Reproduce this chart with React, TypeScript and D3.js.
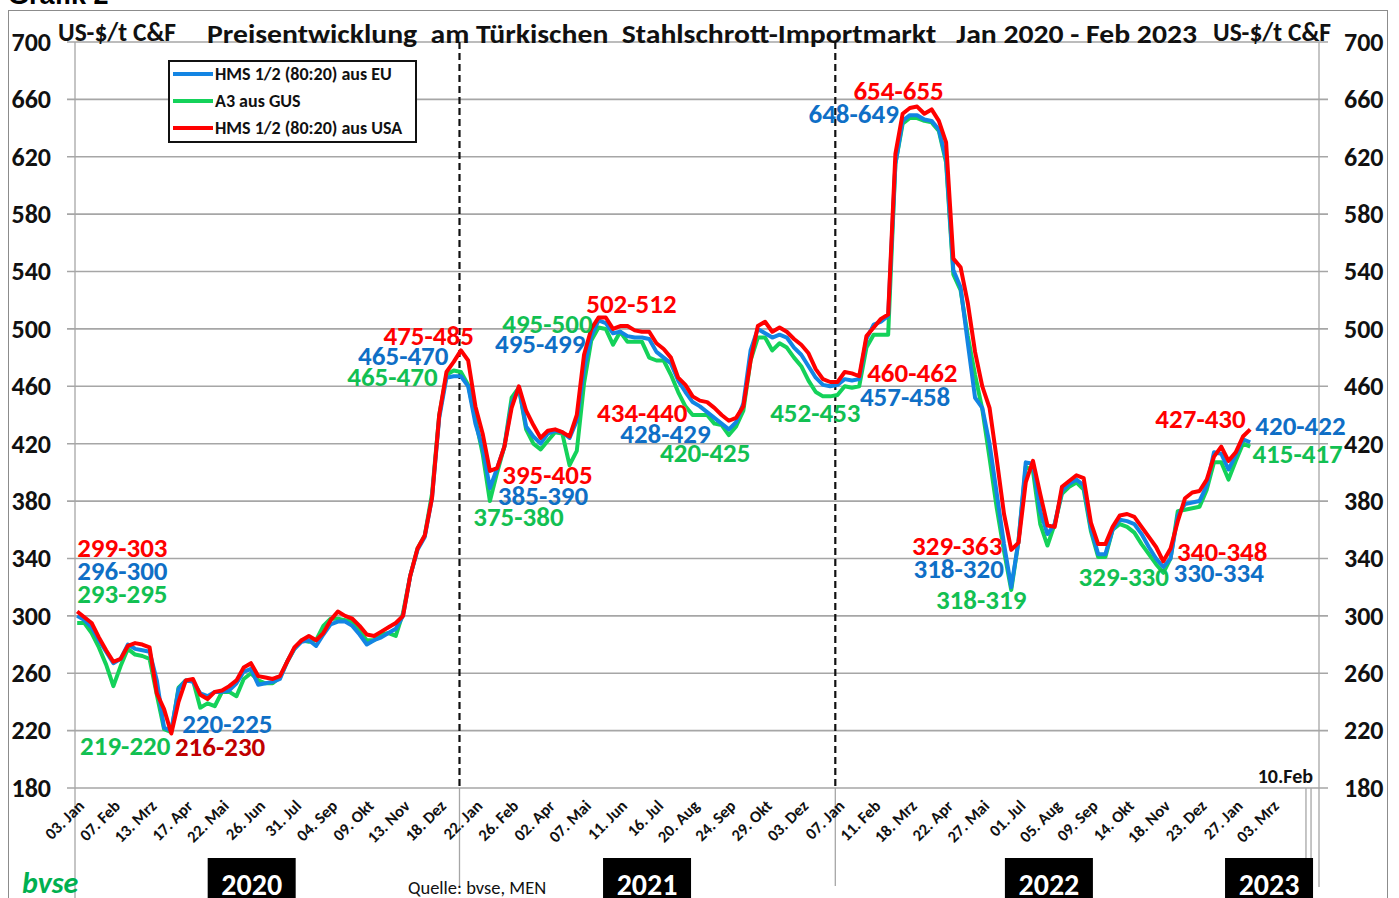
import React, { useEffect, useRef } from "react";
import * as d3 from "d3";

const width = 1399;
const height = 898;
const plotLeft = 75;
const plotRight = 1319;
const plotTop = 42;
const plotBottom = 788;

const font = "Carlito, Calibri, 'Open Sans', sans-serif";

// Wochenwerte ab 03.01.2020 bis 10.02.2023 (US-$/t C&F)
const eu = [
  300, 297, 292, 283, 275, 267, 270, 280, 277, 276, 275, 255, 222, 220, 249, 255, 254, 246, 244, 247,
  247, 248, 253, 261, 263, 252, 253, 254, 256, 268, 277, 282, 283, 279, 287, 294, 296, 296, 293, 287,
  280, 283, 285, 288, 291, 300, 328, 346, 355, 382, 438, 466, 467, 467, 460, 434, 417, 389, 403, 418,
  448, 459, 432, 425, 420, 427, 429, 428, 424, 436, 472, 495, 506, 504, 497, 498, 495, 494, 494, 493,
  484, 480, 476, 464, 456, 449, 446, 442, 438, 434, 430, 435, 448, 485, 500, 497, 494, 496, 494, 487,
  482, 474, 466, 461, 460, 461, 465, 464, 465, 493, 503, 505, 509, 615, 645, 649, 649, 646, 645, 639,
  618, 541, 529, 490, 452, 445, 420, 385, 350, 320, 352, 407, 406, 373, 357, 364, 387, 392, 395, 391,
  361, 343, 343, 360, 367, 366, 364, 357, 348, 340, 334, 340, 370, 378, 379, 380, 391, 414, 413, 402,
  412, 423, 421,
];

const gus = [
  295, 295, 288, 278, 266, 251, 265, 277, 273, 272, 270, 245, 221, 219, 250, 255, 255, 236, 239, 237,
  247, 247, 244, 256, 260, 255, 253, 253, 257, 268, 277, 283, 282, 283, 293, 298, 298, 297, 296, 289,
  283, 283, 287, 288, 286, 302, 328, 347, 356, 385, 440, 468, 471, 470, 461, 437, 413, 380, 400, 418,
  452, 459, 430, 420, 416, 422, 428, 427, 405, 415, 462, 492, 501, 500, 489, 498, 491, 491, 491, 480,
  478, 478, 468, 456, 446, 440, 440, 440, 434, 433, 426, 432, 443, 478, 494, 494, 485, 490, 487, 480,
  474, 464, 456, 453, 453, 454, 460, 459, 460, 487, 496, 496, 496, 615, 643, 647, 647, 645, 644, 638,
  616, 538, 527, 495, 468, 444, 410, 375, 345, 318, 352, 404, 401, 364, 349, 364, 385, 390, 393, 388,
  359, 341, 341, 360, 364, 362, 358, 350, 343, 336, 330, 340, 373, 374, 375, 376, 388, 407, 407, 395,
  408, 420, 418,
];

const usa = [
  303, 299, 295, 285, 276, 268, 270, 279, 281, 280, 278, 246, 235, 218, 240, 255, 256, 245, 242, 247,
  248, 251, 255, 264, 267, 258, 257, 256, 258, 268, 278, 283, 286, 283, 288, 297, 303, 300, 298, 293,
  287, 286, 289, 292, 295, 300, 328, 347, 356, 382, 440, 470, 477, 485, 478, 446, 427, 401, 403, 418,
  445, 460, 443, 433, 424, 429, 430, 428, 425, 440, 482, 500, 508, 508, 500, 502, 502, 499, 498, 498,
  490, 486, 480, 466, 461, 453, 450, 449, 445, 440, 436, 438, 446, 478, 502, 505, 498, 501, 498, 493,
  489, 483, 472, 465, 463, 463, 470, 469, 467, 495, 501, 507, 510, 622, 650, 654, 655, 650, 653, 645,
  630, 549, 543, 518, 484, 460, 445, 409, 371, 346, 351, 393, 408, 385, 363, 362, 390, 394, 398, 396,
  365, 350, 350, 362, 370, 371, 369, 362, 355, 348, 338, 347, 366, 382, 386, 387, 395, 411, 418, 408,
  414, 425, 430,
];

const seriesNames = ["HMS 1/2 (80:20) aus EU", "A3 aus GUS", "HMS 1/2 (80:20) aus USA"];
const lineColors = ["#1385e3", "#14d25a", "#ff0000"];
const textColors = ["#0f6fc6", "#12c052", "#ff0000"];

const yTicks = [180, 220, 260, 300, 340, 380, 420, 460, 500, 540, 580, 620, 660, 700];

// Achsbeschriftung alle 5 Wochen
const xTickLabels = [
  "03. Jan", "07. Feb", "13. Mrz", "17. Apr", "22. Mai", "26. Jun", "31. Jul", "04. Sep", "09. Okt",
  "13. Nov", "18. Dez", "22. Jan", "26. Feb", "02. Apr", "07. Mai", "11. Jun", "16. Jul", "20. Aug",
  "24. Sep", "29. Okt", "03. Dez", "07. Jan", "11. Feb", "18. Mrz", "22. Apr", "27. Mai", "01. Jul",
  "05. Aug", "09. Sep", "14. Okt", "18. Nov", "23. Dez", "27. Jan", "03. Mrz",
];

// Jahreswechsel (gestrichelt) und Achsende, in Wochen
const yearBreaks = [52.8, 104.7];
const axisEndMarks = [169.7, 170.4];

const years = ["2020", "2021", "2022", "2023"];
const yearCenters = [24.1, 78.7, 134.2, 164.6];

// Preisspannen-Beschriftung: Text, Woche, Wert (Grundlinie), Serie
const annotations: [string, number, number, number][] = [
  ["299-303", 0, 341, 2],
  ["296-300", 0, 325, 0],
  ["293-295", 0, 309, 1],
  ["219-220", 0.4, 203, 1],
  ["220-225", 14.5, 218.4, 0],
  ["216-230", 13.5, 202.3, 3],
  ["475-485", 42.3, 489, 2],
  ["465-470", 38.8, 475, 0],
  ["465-470", 37.3, 460.3, 1],
  ["495-500", 58.7, 497.3, 1],
  ["495-499", 57.7, 483.3, 0],
  ["502-512", 70.3, 511.4, 2],
  ["395-405", 58.7, 392, 2],
  ["385-390", 58.1, 377.4, 0],
  ["375-380", 54.7, 362.7, 1],
  ["434-440", 71.8, 435.2, 2],
  ["428-429", 75, 420.6, 0],
  ["420-425", 80.5, 407.3, 1],
  ["452-453", 95.7, 435.2, 1],
  ["654-655", 107.2, 659.8, 2],
  ["648-649", 101, 643.7, 0],
  ["460-462", 109.1, 463.1, 2],
  ["457-458", 108.1, 446.4, 0],
  ["329-363", 115.3, 342.5, 2],
  ["318-320", 115.5, 326.4, 0],
  ["318-319", 118.6, 304.8, 1],
  ["329-330", 138.3, 320.9, 1],
  ["340-348", 151.9, 338.3, 2],
  ["330-334", 151.4, 323.7, 0],
  ["427-430", 148.9, 431, 2],
  ["420-422", 162.7, 426.2, 0],
  ["415-417", 162.3, 406.6, 1],
];

export default function App() {
  const ref = useRef<SVGSVGElement>(null);

  useEffect(() => {
    const svg = d3.select(ref.current);
    svg.selectAll("*").remove();

    const x = d3.scaleLinear().domain([-0.3, 171.5]).range([plotLeft, plotRight]);
    const y = d3.scaleLinear().domain([180, 700]).range([plotBottom, plotTop]);

    svg.attr("font-family", font);

    // Rahmen
    svg
      .append("rect")
      .attr("x", 8.5)
      .attr("y", 10.5)
      .attr("width", 1379)
      .attr("height", 900)
      .attr("fill", "white")
      .attr("stroke", "#8c8c8c");

    svg
      .append("text")
      .attr("x", 8)
      .attr("y", 4)
      .attr("font-size", 27)
      .attr("font-weight", "bold")
      .attr("font-family", "'Liberation Sans', Arial, sans-serif")
      .text("Grafik 2");

    // Gitterlinien
    svg
      .append("g")
      .selectAll("line")
      .data(yTicks)
      .join("line")
      .attr("x1", plotLeft - 8)
      .attr("x2", plotRight + 9)
      .attr("y1", d => y(d))
      .attr("y2", d => y(d))
      .attr("stroke", "#a6a6a6")
      .attr("stroke-width", 1.6);

    // Achsenlinien
    const axisLines = svg.append("g").attr("stroke", "#a6a6a6").attr("stroke-width", 1.3);
    axisLines.append("line").attr("x1", plotLeft).attr("x2", plotLeft).attr("y1", plotTop).attr("y2", height);
    axisLines.append("line").attr("x1", plotRight).attr("x2", plotRight).attr("y1", plotTop).attr("y2", 887);
    axisLines
      .selectAll(".brk")
      .data(yearBreaks)
      .join("line")
      .attr("x1", d => x(d))
      .attr("x2", d => x(d))
      .attr("y1", plotBottom)
      .attr("y2", 886);
    axisLines
      .selectAll(".end")
      .data(axisEndMarks)
      .join("line")
      .attr("x1", d => x(d))
      .attr("x2", d => x(d))
      .attr("y1", plotBottom)
      .attr("y2", 858);

    // Y-Achsen links und rechts
    const yLab = svg
      .append("g")
      .attr("font-size", 26)
      .attr("font-weight", "bold")
      .attr("fill", "#111");
    yLab
      .selectAll(".l")
      .data(yTicks)
      .join("text")
      .attr("x", 51)
      .attr("y", d => y(d))
      .attr("dy", "0.34em")
      .attr("text-anchor", "end")
      .text(d => d);
    yLab
      .selectAll(".r")
      .data(yTicks)
      .join("text")
      .attr("x", 1344)
      .attr("y", d => y(d))
      .attr("dy", "0.34em")
      .attr("text-anchor", "start")
      .text(d => d);

    // X-Achse
    svg
      .append("g")
      .attr("font-size", 16.5)
      .attr("font-weight", "bold")
      .attr("fill", "#111")
      .selectAll("text")
      .data(xTickLabels)
      .join("text")
      .attr("text-anchor", "end")
      .attr("transform", (d, i) => `translate(${x(i * 5) + 8},${plotBottom + 19}) rotate(-45)`)
      .text(d => d);

    // Jahreswechsel
    svg
      .append("g")
      .selectAll("line")
      .data(yearBreaks)
      .join("line")
      .attr("x1", d => x(d))
      .attr("x2", d => x(d))
      .attr("y1", plotTop)
      .attr("y2", plotBottom)
      .attr("stroke", "#111")
      .attr("stroke-width", 2.2)
      .attr("stroke-dasharray", "7,4");

    // Linien
    const line = d3
      .line<number>()
      .x((d, i) => x(i))
      .y(d => y(d));
    const drawOrder = [1, 0, 2];
    const data = [eu, gus, usa];
    svg
      .append("g")
      .selectAll("path")
      .data(drawOrder)
      .join("path")
      .attr("d", k => line(data[k]))
      .attr("fill", "none")
      .attr("stroke", k => lineColors[k])
      .attr("stroke-width", 4)
      .attr("stroke-linejoin", "round");

    // Beschriftungen der Preisspannen
    svg
      .append("g")
      .attr("font-size", 27)
      .attr("font-weight", "bold")
      .selectAll("text")
      .data(annotations)
      .join("text")
      .attr("x", d => x(d[1]))
      .attr("y", d => y(d[2]))
      .attr("fill", d => (d[3] === 3 ? "#c00000" : textColors[d[3]]))
      .text(d => d[0]);

    // Titel
    const head = svg.append("g").attr("font-weight", "bold").attr("fill", "#111");
    head
      .append("text")
      .attr("x", 207)
      .attr("y", 43)
      .attr("font-size", 26)
      .attr("textLength", 990)
      .attr("lengthAdjust", "spacingAndGlyphs")
      .style("white-space", "pre")
      .text("Preisentwicklung  am Türkischen  Stahlschrott-Importmarkt   Jan 2020 - Feb 2023");
    head.append("text").attr("x", 58).attr("y", 41).attr("font-size", 25.5).text("US-$/t C&F");
    head.append("text").attr("x", 1213).attr("y", 41).attr("font-size", 25.5).text("US-$/t C&F");

    // Legende
    const legend = svg.append("g").attr("transform", "translate(168,60)");
    legend
      .append("rect")
      .attr("x", 1)
      .attr("y", 1)
      .attr("width", 247)
      .attr("height", 81)
      .attr("fill", "white")
      .attr("stroke", "#111")
      .attr("stroke-width", 2);
    const rows = legend
      .selectAll("g")
      .data(seriesNames)
      .join("g")
      .attr("transform", (d, i) => `translate(0,${14 + i * 27})`);
    rows
      .append("line")
      .attr("x1", 5)
      .attr("x2", 45)
      .attr("stroke", (d, i) => lineColors[i])
      .attr("stroke-width", 4);
    rows
      .append("text")
      .attr("x", 47)
      .attr("dy", "0.35em")
      .attr("font-size", 18)
      .attr("font-weight", "bold")
      .attr("fill", "#111")
      .text(d => d);

    // Jahresboxen
    const yb = svg
      .append("g")
      .selectAll("g")
      .data(years)
      .join("g")
      .attr("transform", (d, i) => `translate(${x(yearCenters[i])},858)`);
    yb.append("rect").attr("x", -44).attr("y", 0).attr("width", 88).attr("height", 45).attr("fill", "#000");
    yb.append("text")
      .attr("y", 37)
      .attr("text-anchor", "middle")
      .attr("font-size", 30)
      .attr("font-weight", "bold")
      .attr("fill", "white")
      .text(d => d);

    svg
      .append("text")
      .attr("x", 1313)
      .attr("y", 783)
      .attr("text-anchor", "end")
      .attr("font-size", 20)
      .attr("font-weight", "bold")
      .attr("fill", "#111")
      .text("10.Feb");

    svg
      .append("text")
      .attr("x", 22)
      .attr("y", 893)
      .attr("font-size", 30)
      .attr("font-weight", "bold")
      .attr("font-style", "italic")
      .attr("fill", "#00b050")
      .text("bvse");

    svg
      .append("text")
      .attr("x", 408)
      .attr("y", 894)
      .attr("font-size", 18.5)
      .attr("fill", "#111")
      .text("Quelle: bvse, MEN");
  }, []);

  return (
    <svg
      ref={ref}
      width={width}
      height={height}
      viewBox={`0 0 ${width} ${height}`}
      style={{ position: "absolute", left: 0, top: 0, display: "block", background: "white" }}
    ></svg>
  );
}
